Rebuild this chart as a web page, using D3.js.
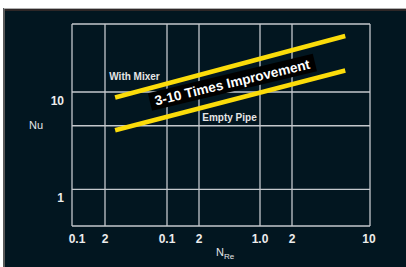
<!DOCTYPE html>
<html>
<head>
<meta charset="utf-8">
<script src="https://cdn.jsdelivr.net/npm/d3@7"></script>
<style>
  html, body { margin: 0; padding: 0; background: #fff; }
  svg { display: block; }
</style>
</head>
<body>
<div id="chart"></div>
<script>
// x axis (N_Re) grid positions and their printed labels
const xTicks = [0.01, 0.02, 0.1, 0.2, 1, 2, 10];
const xTickLabels = ['0.1', '2', '0.1', '2', '1.0', '2', '10'];

// y axis (Nu) grid lines and labels
const yGrid = [0.42, 1, 4.5, 10, 50];
const yTicks = [1, 10];
const yTickLabels = ['1', '10'];

// the two correlation lines (endpoints in N_Re / Nu)
const mixerLine = [[0.026, 8.8], [6, 37.6]];
const emptyLine = [[0.026, 4.04], [6, 16.6]];

// annotations
const annotations = [
  { text: 'With Mixer', x: 0.043, y: 14.6 },
  { text: 'Empty Pipe', x: 0.447, y: 5.5 }
];
const banner = { text: '3-10 Times Improvement', x: 0.48, y: 12.6, angle: -13.5 };

const width = 406, height = 267;
const margin = { top: 24, right: 36, bottom: 41, left: 72 };

const svg = d3.select('#chart').append('svg')
  .attr('width', width)
  .attr('height', height)
  .style('font-family', '"Liberation Sans", Arial, sans-serif');

// dark panel with its frame
svg.append('rect').attr('x', 3).attr('y', 8).attr('width', width - 3).attr('height', height - 8).attr('fill', '#5a5a5a');
svg.append('rect').attr('x', 4).attr('y', 8).attr('width', width - 4).attr('height', 1).attr('fill', '#b0b0b0');
svg.append('rect').attr('x', 5).attr('y', 9).attr('width', width - 5).attr('height', 2).attr('fill', '#2e2727');
svg.append('rect').attr('x', 5).attr('y', 11).attr('width', width - 5).attr('height', height - 11).attr('fill', '#021620');

const x = d3.scaleLog()
  .domain(xTicks)
  .range([72, 105, 167, 199, 260, 292, 370]);

const y = d3.scaleLog()
  .domain([0.42, 50])
  .range([height - margin.bottom, margin.top]);

const g = svg.append('g');

// grid
g.selectAll('.vgrid')
  .data(xTicks)
  .enter()
  .append('line')
  .attr('class', 'vgrid')
  .attr('x1', d => x(d)).attr('x2', d => x(d))
  .attr('y1', y(50)).attr('y2', y(0.42))
  .attr('stroke', '#c4c8cc')
  .attr('stroke-width', 1.3);

g.selectAll('.hgrid')
  .data(yGrid)
  .enter()
  .append('line')
  .attr('class', 'hgrid')
  .attr('x1', x(0.01)).attr('x2', x(10))
  .attr('y1', d => y(d)).attr('y2', d => y(d))
  .attr('stroke', '#c4c8cc')
  .attr('stroke-width', 1.3);

// x tick labels
g.selectAll('.xlabel')
  .data(xTicks)
  .enter()
  .append('text')
  .attr('class', 'xlabel')
  .attr('x', (d, i) => x(d) + (i === 0 ? 5 : (i === xTicks.length - 1 ? -1 : 0)))
  .attr('y', y(0.42) + 17)
  .attr('text-anchor', 'middle')
  .attr('font-size', '12px')
  .attr('font-weight', 'bold')
  .attr('fill', '#ececec')
  .text((d, i) => xTickLabels[i]);

// y tick labels (sit a little below their grid lines)
g.selectAll('.ylabel')
  .data(yTicks)
  .enter()
  .append('text')
  .attr('class', 'ylabel')
  .attr('x', 64)
  .attr('y', d => y(d) + 12.5)
  .attr('text-anchor', 'end')
  .attr('font-size', '12px')
  .attr('font-weight', 'bold')
  .attr('fill', '#ececec')
  .text((d, i) => yTickLabels[i]);

// axis titles
svg.append('text')
  .attr('x', 36).attr('y', 129)
  .attr('text-anchor', 'middle')
  .attr('font-size', '11px')
  .attr('fill', '#e6e6e6')
  .text('Nu');

const xt = svg.append('text')
  .attr('x', 216).attr('y', 256)
  .attr('font-size', '11px')
  .attr('fill', '#e6e6e6');
xt.append('tspan').text('N');
xt.append('tspan').attr('font-size', '8px').attr('dy', 3).text('Re');

// correlation lines
const line = d3.line()
  .x(d => x(d[0]))
  .y(d => y(d[1]));

g.selectAll('.corr')
  .data([mixerLine, emptyLine])
  .enter()
  .append('path')
  .attr('class', 'corr')
  .attr('d', line)
  .attr('fill', 'none')
  .attr('stroke', '#fbdc0a')
  .attr('stroke-width', 4.6);

// series labels
g.selectAll('.ann')
  .data(annotations)
  .enter()
  .append('text')
  .attr('class', 'ann')
  .attr('x', d => x(d.x))
  .attr('y', d => y(d.y))
  .attr('dy', '0.35em')
  .attr('text-anchor', 'middle')
  .attr('font-size', '10px')
  .attr('font-weight', 'bold')
  .attr('fill', '#e6e6e6')
  .text(d => d.text);

// rotated banner
const bg = g.append('g')
  .attr('transform', `translate(${x(banner.x)}, ${y(banner.y)}) rotate(${banner.angle})`);
const bt = bg.append('text')
  .attr('text-anchor', 'middle')
  .attr('dy', '0.36em')
  .attr('font-size', '13.6px')
  .attr('font-weight', 'bold')
  .attr('fill', '#ffffff')
  .text(banner.text);
const bb = bt.node().getBBox();
bg.insert('rect', 'text')
  .attr('x', bb.x - 5)
  .attr('y', -9)
  .attr('width', bb.width + 10)
  .attr('height', 18)
  .attr('fill', '#000000');
</script>
</body>
</html>
